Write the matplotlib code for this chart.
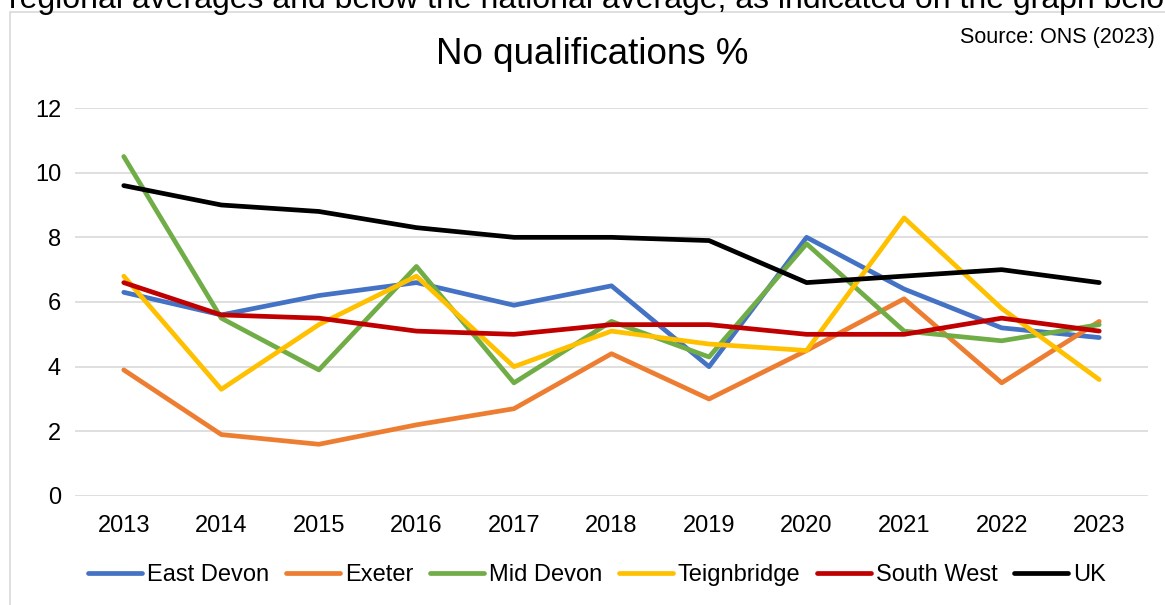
import matplotlib
matplotlib.use("Agg")
from matplotlib import pyplot as plt
from matplotlib.patches import Rectangle

plt.rcParams['font.family'] = ['Liberation Sans', 'DejaVu Sans']

years = [str(y) for y in range(2013, 2024)]

east_devon = [6.3, 5.6, 6.2, 6.6, 5.9, 6.5, 4.0, 8.0, 6.4, 5.2, 4.9]
exeter = [3.9, 1.9, 1.6, 2.2, 2.7, 4.4, 3.0, 4.5, 6.1, 3.5, 5.4]
mid_devon = [10.5, 5.5, 3.9, 7.1, 3.5, 5.4, 4.3, 7.8, 5.1, 4.8, 5.3]
teignbridge = [6.8, 3.3, 5.3, 6.8, 4.0, 5.1, 4.7, 4.5, 8.6, 5.8, 3.6]
south_west = [6.6, 5.6, 5.5, 5.1, 5.0, 5.3, 5.3, 5.0, 5.0, 5.5, 5.1]
uk = [9.6, 9.0, 8.8, 8.3, 8.0, 8.0, 7.9, 6.6, 6.8, 7.0, 6.6]

series = [
    ("East Devon", east_devon, "#4472C4"),
    ("Exeter", exeter, "#ED7D31"),
    ("Mid Devon", mid_devon, "#70AD47"),
    ("Teignbridge", teignbridge, "#FFC000"),
    ("South West", south_west, "#C00000"),
    ("UK", uk, "#000000"),
]

W, H = 1165, 605
fig = plt.figure(figsize=(W / 100, H / 100), dpi=100)

# chart frame (the reference is a cropped screenshot of a document)
fig.patches.append(Rectangle((10 / W, -0.1), 1.2, (H - 12) / H + 0.1,
                             transform=fig.transFigure, facecolor="none",
                             edgecolor="#d9d9d9", lw=1.2, zorder=-1))
fig.text(9 / W, 1 - 8 / H,
         "regional averages and below the national average, as indicated on the graph below",
         fontsize=23, va="baseline", ha="left", color="black")

ax = fig.add_axes([75 / W, 1 - 496 / H, (1148 - 75) / W, (496 - 108) / H])
ax.set_facecolor("none")

x = range(len(years))
for name, vals, col in series:
    ax.plot(x, vals, color=col, lw=3.4, label=name,
            solid_capstyle="round", solid_joinstyle="round")

ax.set_xlim(-0.5, len(years) - 0.5)
ax.set_ylim(0, 12)
ax.set_yticks(range(0, 13, 2))
ax.set_xticks(list(x))
ax.set_xticklabels(years)
ax.grid(axis="y", color="#d9d9d9", lw=1.2)
ax.set_axisbelow(True)
for s in ax.spines.values():
    s.set_visible(False)
ax.tick_params(axis="both", length=0, labelsize=17)
ax.tick_params(axis="x", pad=14)
ax.tick_params(axis="y", pad=10)

fig.text(592 / W, 1 - 55 / H, "No qualifications %", fontsize=26.5,
         ha="center", va="center")
fig.text(1155 / W, 1 - 38 / H, "Source: ONS (2023)", fontsize=15.5,
         ha="right", va="center")

ax.legend(loc="center", bbox_to_anchor=(597 / W, 1 - 575 / H),
          bbox_transform=fig.transFigure, ncol=6, frameon=False,
          fontsize=17, handlelength=2.3, handletextpad=0.2,
          columnspacing=0.7)

fig.savefig("out.png", dpi=100)
